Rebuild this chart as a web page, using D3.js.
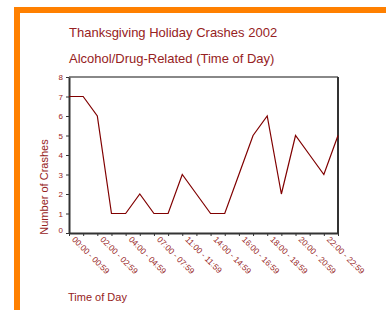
<!DOCTYPE html>
<html><head><meta charset="utf-8">
<script src="https://cdn.jsdelivr.net/npm/d3@7"></script>
<style>body{margin:0;background:#fff}svg{display:block;font-family:"Liberation Sans",Arial,sans-serif}</style>
</head><body>
<script>
const categories = ["00:00 - 00:59","01:00 - 01:59","02:00 - 02:59","03:00 - 03:59","04:00 - 04:59","05:00 - 05:59","07:00 - 07:59","08:00 - 08:59","11:00 - 11:59","12:00 - 12:59","14:00 - 14:59","15:00 - 15:59","16:00 - 16:59","17:00 - 17:59","18:00 - 18:59","19:00 - 19:59","20:00 - 20:59","21:00 - 21:59","22:00 - 22:59","23:00 - 23:59"];
const crashes = [7,7,6,1,1,2,1,1,3,2,1,1,3,5,6,2,5,4,3,5];
const yTicks = [0,1,2,3,4,5,6,7,8];
const title = "Thanksgiving Holiday Crashes 2002";
const subtitle = "Alcohol/Drug-Related (Time of Day)";
const yTitle = "Number of Crashes";
const xTitle = "Time of Day";

const W = 386, H = 310;
const red = "#962222";
const svg = d3.select("body").append("svg").attr("width", W).attr("height", H);

// orange border
svg.append("rect").attr("x",14).attr("y",7).attr("width",W-14).attr("height",6).attr("fill","#ff8000");
svg.append("rect").attr("x",14).attr("y",7).attr("width",6).attr("height",H-7).attr("fill","#ff8000");

const pL = 69, pR = 338, pT = 77, pB = 233;
const x = d3.scalePoint().domain(categories).range([pL, pR]);
const y = d3.scaleLinear().domain([0, 8]).range([pB, pT]);

// titles
svg.append("text").attr("x",69).attr("y",37).attr("fill",red).attr("font-size",13).text(title);
svg.append("text").attr("x",69).attr("y",63).attr("fill",red).attr("font-size",13).text(subtitle);

// frame
svg.append("line").attr("x1",pL).attr("x2",pR).attr("y1",pT).attr("y2",pT).attr("stroke","#888").attr("stroke-width",2);
svg.append("line").attr("x1",pR).attr("x2",pR).attr("y1",pT).attr("y2",pB).attr("stroke","#333").attr("stroke-width",2);

// y axis
const yAxis = svg.append("g").attr("transform",`translate(${pL},0)`)
  .call(d3.axisLeft(y).tickValues(yTicks).tickSize(3).tickPadding(3).tickSizeOuter(0));
yAxis.select(".domain").attr("stroke","#333").attr("stroke-width",2);
yAxis.selectAll(".tick line").attr("stroke","#333");
yAxis.selectAll(".tick text").attr("fill",red).attr("font-size",8).attr("font-family","Liberation Sans, Arial, sans-serif")
  .attr("y",d=> d===0 ? -3 : 0);

// x axis
const xAxis = svg.append("g").attr("transform",`translate(0,${pB})`)
  .call(d3.axisBottom(x).tickSize(3).tickSizeOuter(0).tickFormat((d,i)=> i%2===0 ? d : ""));
xAxis.select(".domain").attr("stroke","#333").attr("stroke-width",2);
xAxis.selectAll(".tick line").attr("stroke","#333");
xAxis.selectAll(".tick text").attr("fill",red).attr("font-size",8.3).attr("font-family","Liberation Sans, Arial, sans-serif")
  .attr("text-anchor","start").attr("dy",null).attr("y",0)
  .attr("transform","translate(2,7) rotate(45)");

// line
svg.append("path").datum(crashes)
  .attr("fill","none").attr("stroke","#800000").attr("stroke-width",1.2)
  .attr("d", d3.line().x((d,i)=>x(categories[i])).y(d=>y(d)));

// axis titles
svg.append("text").attr("transform",`translate(48,${(pT+pB)/2+32}) rotate(-90)`)
  .attr("text-anchor","middle").attr("fill",red).attr("font-size",11).text(yTitle);
svg.append("text").attr("x",68).attr("y",301).attr("fill",red).attr("font-size",11).text(xTitle);
</script>
</body></html>
